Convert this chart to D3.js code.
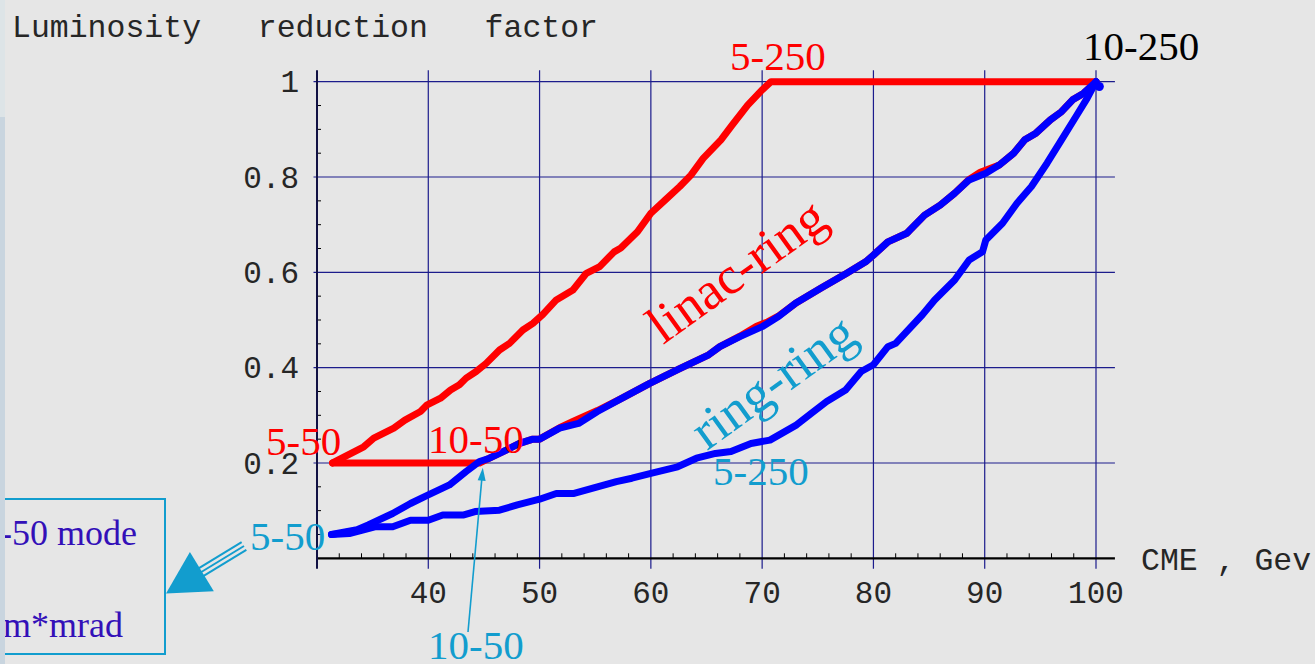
<!DOCTYPE html>
<html><head><meta charset="utf-8">
<script src="https://cdn.jsdelivr.net/npm/d3@7"></script>
<style>body{margin:0;background:#e6e6e6;overflow:hidden}</style>
</head><body><svg id="c" width="1315" height="664"></svg>
<script>
// ---------- data ----------
const xTickValues = [40, 50, 60, 70, 80, 90, 100];
const yTickValues = [0.2, 0.4, 0.6, 0.8, 1];
const yTickLabels = ["0.2", "0.4", "0.6", "0.8", "1"];
const xMinorTicks = [32,34,36,38,42,44,46,48,52,54,56,58,62,64,66,68,72,74,76,78,82,84,86,88,92,94,96,98];
const yMinorTicks = [0.05,0.1,0.15,0.25,0.3,0.35,0.45,0.5,0.55,0.65,0.7,0.75,0.85,0.9,0.95];

// linac-ring, 5-50 -> 5-250
const linac5X = [31.4,34.2,35.1,36.9,37.9,39.3,39.9,41.1,42.0,42.8,43.4,44.3,45.2,46.4,47.3,48.5,49.4,50.3,51.5,53.0,54.2,55.4,56.7,57.3,58.8,60.0,61.3,62.6,63.6,64.7,66.3,67.3,68.7,70.0,70.8,100];
const linac5Y = [0.2,0.234,0.252,0.273,0.29,0.308,0.322,0.336,0.353,0.364,0.378,0.392,0.409,0.437,0.451,0.479,0.493,0.512,0.542,0.563,0.598,0.612,0.643,0.651,0.685,0.724,0.752,0.78,0.804,0.839,0.878,0.909,0.951,0.983,1.0,1.0];

// linac-ring, 10-50 -> 10-250
const linac10X = [31.4,44.6,45.5,47.0,48.2,49.4,50.0,51.8,53.0,55.2,57.5,59.9,62.5,65.2,66.2,68.0,69.5,70.5,71.5,73.0,75.3,77.6,79.3,80.0,81.3,83.0,84.6,86.0,87.3,88.6,89.6,91.3,92.6,93.6,94.6,95.9,96.9,97.9,98.9,100];
const linac10Y = [0.2,0.2,0.21,0.227,0.241,0.25,0.25,0.274,0.287,0.31,0.337,0.367,0.397,0.427,0.444,0.466,0.487,0.496,0.509,0.535,0.567,0.598,0.622,0.636,0.664,0.682,0.72,0.741,0.766,0.795,0.81,0.825,0.85,0.878,0.892,0.92,0.937,0.962,0.976,1.0];

// ring-ring, 10-50 -> 10-250
const ring10X = [31.3,33.6,34.6,36.8,38.4,40.0,41.9,43.4,44.6,45.5,47.0,48.2,49.4,50.0,51.8,53.5,55.2,57.5,59.9,62.5,65.2,66.2,68.0,70.0,71.5,73.0,75.3,77.6,79.3,80.0,81.3,83.0,84.6,86.0,87.3,88.6,90.1,91.3,92.6,93.6,94.6,95.9,96.9,97.9,98.9,100];
const ring10Y = [0.05,0.06,0.07,0.094,0.115,0.133,0.154,0.182,0.203,0.21,0.227,0.241,0.25,0.25,0.273,0.283,0.308,0.337,0.367,0.397,0.427,0.444,0.465,0.486,0.508,0.535,0.567,0.598,0.622,0.636,0.664,0.682,0.72,0.741,0.766,0.794,0.808,0.825,0.85,0.878,0.892,0.92,0.937,0.962,0.976,1.0];

// ring-ring, 5-50 -> 5-250
const ring5X = [31.3,32.9,35.2,36.8,38.4,40.0,41.3,43.2,44.2,46.4,48.0,50.0,51.5,53.1,55.2,56.9,58.3,60.0,62.4,64.1,65.8,67.2,69.0,70.7,73.1,74.4,75.8,77.5,78.9,80.0,81.3,82.0,84.4,85.5,87.3,88.6,89.8,90.1,91.6,92.9,94.2,95.6,96.9,98.2,99.2,100];
const ring5Y = [0.05,0.052,0.066,0.066,0.08,0.08,0.091,0.091,0.098,0.101,0.112,0.124,0.136,0.136,0.15,0.161,0.168,0.178,0.192,0.21,0.22,0.224,0.241,0.248,0.28,0.304,0.329,0.353,0.392,0.406,0.444,0.451,0.511,0.542,0.584,0.626,0.643,0.668,0.703,0.745,0.78,0.829,0.878,0.927,0.965,1.0];

const endPoint = [{x: 100.3, y: 0.99}];

// ---------- drawing ----------
const svg = d3.select("#c");
const W = 1315, H = 664;
const x = d3.scaleLinear().domain([30, 100]).range([317, 1096]);
const y = d3.scaleLinear().domain([0, 1]).range([558.3, 81.7]);
const xRight = x(101.7), yTop = y(1.024), yBottom = y(0) + 10.5;

const navy = "#1c1c8c";
const cyan = "#129dce";
const MONO = "'Courier New','Liberation Mono',monospace";
const SERIF = "'Times New Roman','Liberation Serif',serif";

svg.append("rect").attr("width", W).attr("height", H).attr("fill", "#e6e6e6");

// grid
const g = svg.append("g");
g.selectAll(".vg").data(xTickValues).join("line")
  .attr("x1", d => x(d)).attr("x2", d => x(d))
  .attr("y1", yTop).attr("y2", yBottom)
  .attr("stroke", navy).attr("stroke-width", 1.2);
g.selectAll(".hg").data(yTickValues).join("line")
  .attr("x1", x(30) - 3.5).attr("x2", xRight)
  .attr("y1", d => y(d)).attr("y2", d => y(d))
  .attr("stroke", navy).attr("stroke-width", 1.2);

// minor ticks
g.selectAll(".xm").data(xMinorTicks).join("line")
  .attr("x1", d => x(d)).attr("x2", d => x(d))
  .attr("y1", y(0)).attr("y2", y(0) - 5)
  .attr("stroke", "#000").attr("stroke-width", 1);
g.selectAll(".ym").data(yMinorTicks).join("line")
  .attr("x1", x(30)).attr("x2", x(30) + 4)
  .attr("y1", d => y(d)).attr("y2", d => y(d))
  .attr("stroke", "#000").attr("stroke-width", 1);

// axes lines
svg.append("line").attr("x1", x(30)).attr("x2", xRight).attr("y1", y(0)).attr("y2", y(0))
  .attr("stroke", "#000").attr("stroke-width", 2.2);
svg.append("line").attr("x1", x(30)).attr("x2", x(30)).attr("y1", yTop).attr("y2", yBottom)
  .attr("stroke", "#111144").attr("stroke-width", 2);

// tick labels
svg.selectAll(".xl").data(xTickValues).join("text")
  .attr("x", d => x(d)).attr("y", 603)
  .attr("text-anchor", "middle")
  .attr("font-family", MONO).attr("font-size", 31).attr("fill", "#262626")
  .text(d => d);
svg.selectAll(".yl").data(yTickValues).join("text")
  .attr("x", 299).attr("y", d => y(d)).attr("dy", "0.34em")
  .attr("text-anchor", "end")
  .attr("font-family", MONO).attr("font-size", 31).attr("fill", "#262626")
  .text((d, i) => yTickLabels[i]);

// axis titles
svg.append("text").attr("x", 12).attr("y", 37)
  .attr("font-family", MONO).attr("font-size", 31.5).attr("fill", "#262626")
  .style("white-space", "pre").text("Luminosity   reduction   factor");
svg.append("text").attr("x", 1141).attr("y", 570)
  .attr("font-family", MONO).attr("font-size", 31.5).attr("fill", "#262626")
  .style("white-space", "pre").text("CME , Gev");

// curves
const line = d3.line().x(d => x(d[0])).y(d => y(d[1]));
function zip(a, b) { return a.map((v, i) => [v, b[i]]); }
const curves = [
  {pts: zip(linac5X, linac5Y), color: "#ff0000"},
  {pts: zip(linac10X, linac10Y), color: "#ff0000"},
  {pts: zip(ring10X, ring10Y), color: "#0000ff"},
  {pts: zip(ring5X, ring5Y), color: "#0000ff"}
];
svg.selectAll(".curve").data(curves).join("path")
  .attr("d", d => line(d.pts))
  .attr("fill", "none").attr("stroke", d => d.color)
  .attr("stroke-width", 7).attr("stroke-linejoin", "round").attr("stroke-linecap", "round");
svg.selectAll(".endp").data(endPoint).join("circle")
  .attr("cx", d => x(d.x)).attr("cy", d => y(d.y)).attr("r", 4.5).attr("fill", "#0000ff");

// labels
function label(txt, px, py, color, size, rot) {
  const t = svg.append("text").attr("font-family", SERIF).attr("font-size", size)
    .attr("fill", color).text(txt);
  if (rot) t.attr("transform", `translate(${px},${py}) rotate(${rot})`);
  else t.attr("x", px).attr("y", py);
  return t;
}
label("5-250", 730, 70, "#ff0000", 41);
label("10-250", 1083, 60, "#000000", 41);
label("5-50", 266, 455, "#ff0000", 41);
label("10-50", 428, 453, "#ff0000", 41);
label("linac-ring", 663, 345, "#ff0000", 53, -35.7);
label("ring-ring", 707, 451, cyan, 53, -35.8);
label("5-250", 713, 485, cyan, 41);
label("5-50", 250, 550, cyan, 41);
label("10-50", 428, 659, cyan, 41);

// thin arrow to the 10-50 crossing
const tipX = x(44.9), tipY = y(0.19);
const tailX = 468, tailY = 632;
const ang = Math.atan2(tipY - tailY, tipX - tailX);
svg.append("line").attr("x1", tailX).attr("y1", tailY)
  .attr("x2", tipX - 10 * Math.cos(ang)).attr("y2", tipY - 10 * Math.sin(ang))
  .attr("stroke", cyan).attr("stroke-width", 1.6);
{
  const L = 13, Wd = 4;
  const bx = tipX - L * Math.cos(ang), by = tipY - L * Math.sin(ang);
  const nx = -Math.sin(ang), ny = Math.cos(ang);
  svg.append("path").attr("d",
    `M${tipX},${tipY}L${bx + nx * Wd},${by + ny * Wd}L${bx - nx * Wd},${by - ny * Wd}Z`)
    .attr("fill", cyan);
}

// big triple arrow toward box
{
  const sx = 244, sy = 546, ex = 166, ey = 593.5;
  const a = Math.atan2(ey - sy, ex - sx);
  const nx = -Math.sin(a), ny = Math.cos(a);
  const headL = 42, headW = 23;
  const bx = ex - headL * Math.cos(a), by = ey - headL * Math.sin(a);
  [-4.5, 0, 4.5].forEach(o => {
    svg.append("line")
      .attr("x1", sx + nx * o).attr("y1", sy + ny * o)
      .attr("x2", bx + 4 * Math.cos(a) + nx * o).attr("y2", by + 4 * Math.sin(a) + ny * o)
      .attr("stroke", cyan).attr("stroke-width", 2);
  });
  svg.append("path").attr("d",
    `M${ex},${ey}L${bx + nx * headW},${by + ny * headW}L${bx - nx * headW},${by - ny * headW}Z`)
    .attr("fill", cyan);
}

// box on the left
svg.append("rect").attr("x", -20).attr("y", 499).attr("width", 185).attr("height", 155)
  .attr("fill", "none").attr("stroke", cyan).attr("stroke-width", 2);
svg.append("text").attr("x", 137).attr("y", 545).attr("text-anchor", "end")
  .attr("font-family", SERIF).attr("font-size", 36).attr("fill", "#3310b8").text("-50 mode");
svg.append("text").attr("x", 123).attr("y", 637).attr("text-anchor", "end")
  .attr("font-family", SERIF).attr("font-size", 36).attr("fill", "#3310b8").text("m*mrad");

// left edge strip
svg.append("rect").attr("x", 0).attr("y", 0).attr("width", 5).attr("height", 117).attr("fill", "#dde4e7");
svg.append("rect").attr("x", 0).attr("y", 117).attr("width", 5).attr("height", H - 117).attr("fill", "#c9d5df");
</script></body></html>
